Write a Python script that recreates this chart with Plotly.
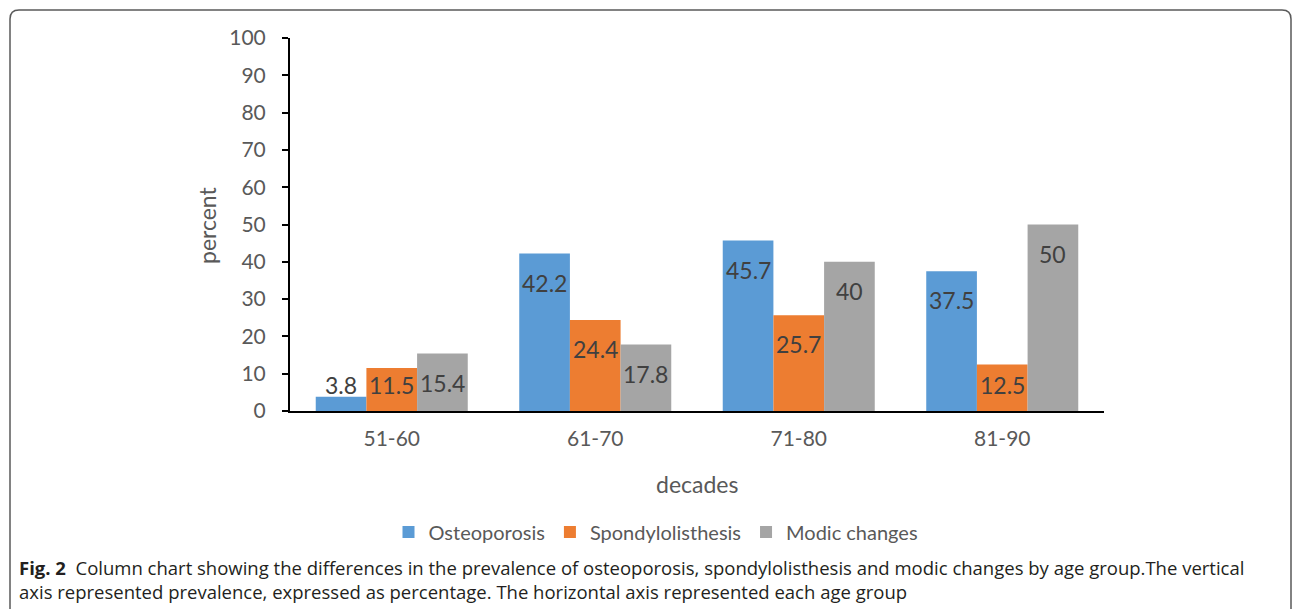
import plotly.graph_objects as go

# Age groups and prevalence (%) per condition
decades = ["51-60", "61-70", "71-80", "81-90"]
osteoporosis = [3.8, 42.2, 45.7, 37.5]
spondylolisthesis = [11.5, 24.4, 25.7, 12.5]
modic_changes = [15.4, 17.8, 40, 50]

series = [
    ("Osteoporosis", osteoporosis, "#5B9BD5"),
    ("Spondylolisthesis", spondylolisthesis, "#ED7D31"),
    ("Modic changes", modic_changes, "#A5A5A5"),
]

W, H = 1292, 609
ML, MR, MT, MB = 290, 188, 38, 198
PW, PH = W - ML - MR, H - MT - MB
BARGAP = 0.253
FONT = "Lato"


def xp(px):
    return (px - ML) / PW


def yp(py):
    return (H - MB - py) / PH


fig = go.Figure()
for name, vals, color in series:
    fig.add_trace(go.Bar(name=name, x=decades, y=vals, marker_color=color,
                         marker_line_width=0))

# Value labels: near the top inside each column, kept above a floor
bar_w = (1 - BARGAP) / len(series)
px_per_unit = PH / 100
annotations = []
for j, (name, vals, color) in enumerate(series):
    for i, v in enumerate(vals):
        y_lab = max(v - 29 / px_per_unit, 26.5 / px_per_unit)
        annotations.append(dict(
            x=i + (j - 1) * bar_w, y=y_lab, xref="x", yref="y",
            text=f"{v:g}", showarrow=False,
            font=dict(family=FONT, size=23, color="#404040"),
            xanchor="center", yanchor="middle"))

# Axis titles
annotations.append(dict(x=xp(207), y=yp(225), xref="paper", yref="paper",
                        xanchor="center", yanchor="middle",
                        text="percent", textangle=-90, showarrow=False,
                        font=dict(family=FONT, size=23, color="#595959")))
annotations.append(dict(x=xp(697), y=yp(484), xref="paper", yref="paper",
                        xanchor="center", yanchor="middle",
                        text="decades", showarrow=False,
                        font=dict(family=FONT, size=23, color="#595959")))

# Figure caption
cap_font = dict(family="Open Sans", size=18.5, color="#231F20")
annotations.append(dict(
    x=xp(17), y=yp(567), xref="paper", yref="paper", xanchor="left",
    yanchor="middle", showarrow=False, font=cap_font,
    text="<b>Fig. 2</b>  Column chart showing the differences in the prevalence of "
         "osteoporosis, spondylolisthesis and modic changes by age group.The vertical"))
annotations.append(dict(
    x=xp(17), y=yp(591), xref="paper", yref="paper", xanchor="left",
    yanchor="middle", showarrow=False, font=cap_font,
    text="axis represented prevalence, expressed as percentage. The horizontal axis "
         "represented each age group"))

# Rounded frame around the figure panel
L, T, R, B, r = 10, 10, 1291, 640, 9
frame_path = (
    f"M {xp(L)},{yp(B)} L {xp(L)},{yp(T + r)} Q {xp(L)},{yp(T)} {xp(L + r)},{yp(T)} "
    f"L {xp(R - r)},{yp(T)} Q {xp(R)},{yp(T)} {xp(R)},{yp(T + r)} L {xp(R)},{yp(B)}"
)

fig.update_layout(
    width=W, height=H,
    margin=dict(l=ML, r=MR, t=MT, b=MB, autoexpand=False),
    paper_bgcolor="white", plot_bgcolor="white",
    barmode="group", bargap=BARGAP, bargroupgap=0,
    font=dict(family=FONT, color="#595959"),
    showlegend=True,
    legend=dict(orientation="h", xanchor="center", x=xp(656),
                yanchor="middle", y=yp(532),
                font=dict(family=FONT, size=20, color="#595959"),
                bgcolor="rgba(0,0,0,0)", itemclick=False),
    annotations=annotations,
    shapes=[dict(type="path", path=frame_path, xref="paper", yref="paper",
                 line=dict(color="#5a5a5a", width=1.5), layer="above")],
    xaxis=dict(showline=True, linecolor="black", linewidth=2, ticks="",
               showgrid=False, zeroline=False,
               tickfont=dict(family=FONT, size=21, color="#595959"),
               ticklabelstandoff=8),
    yaxis=dict(range=[0, 100], dtick=10, showline=True, linecolor="black",
               linewidth=2, ticks="outside", ticklen=6, tickwidth=2,
               tickcolor="black", showgrid=False, zeroline=False,
               tickfont=dict(family=FONT, size=21, color="#595959"),
               ticklabelstandoff=12),
)

fig.write_html("out.html")
